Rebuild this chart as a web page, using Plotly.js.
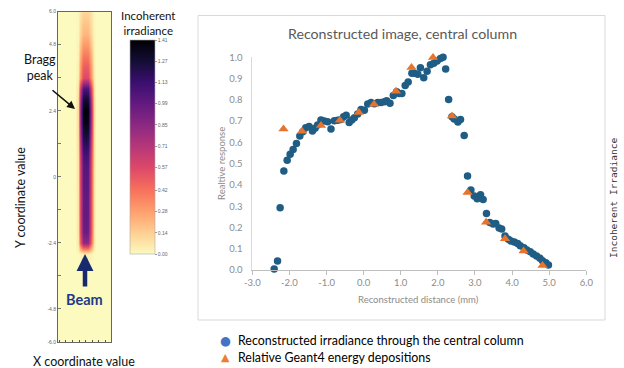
<!DOCTYPE html>
<html>
<head>
<meta charset="utf-8">
<script src="https://cdn.plot.ly/plotly-3.0.1.min.js"></script>
<style>html,body{margin:0;padding:0;background:#fff;}#chart{width:624px;height:368px;}</style>
</head>
<body>
<div id="chart"></div>
<script>
// ---- Right panel: reconstructed irradiance through the central column ----
const reconX = [-2.41,-2.32,-2.25,-2.15,-2.06,-1.98,-1.90,-1.81,-1.72,-1.64,-1.56,-1.47,-1.38,-1.31,-1.24,-1.15,-1.06,-0.97,-0.88,-0.79,-0.70,-0.61,-0.54,-0.47,-0.39,-0.32,-0.25,-0.16,-0.07,0.02,0.11,0.20,0.29,0.38,0.47,0.56,0.62,0.71,0.80,0.89,0.96,1.03,1.12,1.20,1.30,1.37,1.46,1.53,1.62,1.71,1.80,1.89,1.98,2.07,2.14,2.21,2.29,2.38,2.44,2.54,2.61,2.71,2.80,2.89,2.98,3.06,3.15,3.22,3.31,3.40,3.49,3.56,3.65,3.72,3.81,3.90,3.97,4.06,4.15,4.22,4.32,4.40,4.49,4.57,4.66,4.75,4.82,4.91,4.98];
const reconY = [0.005,0.042,0.293,0.465,0.516,0.544,0.566,0.595,0.630,0.650,0.669,0.675,0.653,0.666,0.682,0.705,0.700,0.697,0.663,0.702,0.704,0.708,0.721,0.727,0.694,0.705,0.716,0.733,0.755,0.751,0.780,0.787,0.782,0.788,0.788,0.791,0.796,0.784,0.820,0.838,0.830,0.830,0.867,0.884,0.925,0.925,0.920,0.951,0.904,0.934,0.965,0.972,0.983,0.994,1.000,0.945,0.802,0.720,0.710,0.696,0.708,0.632,0.442,0.376,0.348,0.335,0.354,0.331,0.266,0.223,0.216,0.219,0.197,0.193,0.160,0.144,0.136,0.132,0.125,0.114,0.105,0.094,0.086,0.075,0.066,0.055,0.044,0.034,0.024];
// Relative Geant4 energy depositions
const geantX = [-2.16,-1.66,-1.15,-0.64,-0.13,0.28,0.87,1.29,1.87,2.38,2.80,3.30,3.81,4.31,4.82];
const geantY = [0.663,0.652,0.679,0.704,0.740,0.779,0.840,0.952,0.999,0.724,0.364,0.224,0.147,0.089,0.021];
const distTicks = [-3,-2,-1,0,1,2,3,4,5,6];
const distTickText = ['-3.0','-2.0','-1.0','0.0','1.0','2.0','3.0','4.0','5.0','6.0'];
const respTicks = [0,0.1,0.2,0.3,0.4,0.5,0.6,0.7,0.8,0.9,1.0];
const respTickText = ['0.0','0.1','0.2','0.3','0.4','0.5','0.6','0.7','0.8','0.9','1.0'];

// ---- Left panel: incoherent irradiance map ----
// rows along Y coordinate (from -6.0 to 6.0 in steps of 0.4)
const mapY = [-6.0,-5.6,-5.2,-4.8,-4.4,-4.0,-3.6,-3.2,-2.8,-2.4,-2.0,-1.6,-1.2,-0.8,-0.4,0.0,0.4,0.8,1.2,1.6,2.0,2.4,2.8,3.2,3.6,4.0,4.4,4.8,5.2,5.6,6.0];
const columnProfile = [0,0,0,0,0,0,0,0,0.05,0.85,0.97,0.99,1.0,1.0,1.02,1.03,1.05,1.1,1.2,1.3,1.38,1.41,1.3,1.08,0.57,0.5,0.4,0.3,0.21,0.17,0.12];
// columns along X coordinate (from -1.0 to 1.0 in steps of 0.1)
const mapX = [-1.0,-0.9,-0.8,-0.7,-0.6,-0.5,-0.4,-0.3,-0.2,-0.1,0.0,0.1,0.2,0.3,0.4,0.5,0.6,0.7,0.8,0.9,1.0];
const lateralProfile = [0,0,0,0,0,0,0,0.08,0.55,0.97,1.0,0.97,0.55,0.08,0,0,0,0,0,0,0];
const cbTicks = [0,0.14,0.28,0.42,0.57,0.71,0.85,0.99,1.13,1.27,1.41];
const cbTickText = ['0.00','0.14','0.28','0.42','0.57','0.71','0.85','0.99','1.13','1.27','1.41'];
const mapYTicks = [-6,-4.8,-3.6,-2.4,-1.2,0,1.2,2.4,3.6,4.8,6];
const mapYTickText = ['-6.0','-4.8','','-2.4','','0','','2.4','','4.8','6.0'];
const magmaStops = [0,0.1,0.2,0.3,0.4,0.5,0.6,0.7,0.8,0.9,1];
const magmaColors = ['#fcfabf','#fecf92','#fe9f6d','#f7705c','#de4968','#b73779','#8c2981','#641a80','#3b0f70','#140e36','#000004'];

const zMap = columnProfile.map(r => lateralProfile.map(c => r * c));
const W = 624, H = 368;
const px = v => v / W;
const py = v => 1 - v / H;

const heat = {
  type: 'heatmap', x: mapX, y: mapY, z: zMap, zmin: 0, zmax: 1.41,
  zsmooth: 'best', xaxis: 'x', yaxis: 'y', hoverinfo: 'skip',
  colorscale: magmaStops.map((s, i) => [s, magmaColors[i]]),
  colorbar: {
    x: px(129.5), xanchor: 'left', xpad: 0, y: py(254), yanchor: 'bottom', ypad: 0,
    len: 214 / H, lenmode: 'fraction', thickness: 25, thicknessmode: 'pixels',
    tickmode: 'array', tickvals: cbTicks, ticktext: cbTickText,
    tickfont: {size: 5, color: '#666', family: 'Liberation Sans'},
    ticks: 'outside', ticklen: 2, tickcolor: '#999',
    outlinewidth: 0.6, outlinecolor: '#aaa'
  }
};
const recon = {
  type: 'scatter', mode: 'markers', x: reconX, y: reconY, xaxis: 'x2', yaxis: 'y2',
  name: 'Reconstructed irradiance through the central column', showlegend: false,
  cliponaxis: false,
  marker: {symbol: 'circle', size: 7.5, color: '#1f5d85'}
};
const geant = {
  type: 'scatter', mode: 'markers', x: geantX, y: geantY, xaxis: 'x2', yaxis: 'y2',
  name: 'Relative Geant4 energy depositions', showlegend: false,
  cliponaxis: false,
  marker: {symbol: 'triangle-up', size: 9, color: '#e8732c'}
};

const grayTxt = '#8c8c8c';
const annos = [
  {text: 'Reconstructed image, central column', x: px(402), y: py(34), font: {family: 'Lato', size: 14.2, color: '#595959'}},
  {text: 'Realtive response', x: px(221), y: py(164), textangle: -90, font: {family: 'Lato', size: 9.5, color: grayTxt}},
  {text: 'Reconstructed distance (mm)', x: px(419), y: py(299), font: {family: 'Lato', size: 9.5, color: grayTxt}},
  {text: '●', x: px(225), y: py(340), font: {family: 'DejaVu Sans', size: 12.5, color: '#4472c4'}},
  {text: '▲', x: px(225), y: py(357), font: {family: 'DejaVu Sans', size: 11, color: '#ed7d31'}},
  {text: 'Reconstructed irradiance through the central column', x: px(236), y: py(340), xanchor: 'left', font: {family: 'Lato', size: 12.4, color: '#000'}},
  {text: 'Relative Geant4 energy depositions', x: px(236), y: py(357.5), xanchor: 'left', font: {family: 'Lato', size: 12.4, color: '#000'}},
  {text: 'Incoherent Irradiance', x: px(614), y: py(198), textangle: -90, font: {family: 'DejaVu Sans Mono', size: 9.5, color: '#333'}},
  {text: 'Incoherent<br>irradiance', x: px(148), y: py(23), font: {family: 'Lato', size: 11.5, color: '#111'}},
  {text: 'Bragg<br>peak', x: px(39.5), y: py(67.5), font: {family: 'Lato', size: 12.5, color: '#111'}},
  {text: 'Y coordinate value', x: px(21), y: py(198), textangle: -90, font: {family: 'Lato', size: 12.5, color: '#111'}},
  {text: 'X coordinate value', x: px(84), y: py(361), font: {family: 'Lato', size: 12.5, color: '#111'}},
  {text: '<b>Beam</b>', x: px(85), y: py(299), font: {family: 'Lato', size: 14.5, color: '#1d3a8a'}},
  {text: '', x: px(75), y: py(109), ax: -24, ay: -20, showarrow: true, arrowhead: 2, arrowsize: 1, arrowwidth: 1.6, arrowcolor: '#111'},
  {text: '', x: px(85), y: py(254), ax: 0, ay: 34, showarrow: true, arrowhead: 2, arrowsize: 0.75, arrowwidth: 4.5, arrowcolor: '#182a6e'}
].map(a => Object.assign({xref: 'paper', yref: 'paper', showarrow: false, xanchor: 'center', yanchor: 'middle'}, a));

const layout = {
  width: W, height: H, autosize: false,
  margin: {l: 0, r: 0, t: 0, b: 0, pad: 0},
  paper_bgcolor: '#fff', plot_bgcolor: 'rgba(0,0,0,0)',
  showlegend: false,
  xaxis: {domain: [px(58), px(111)], range: [-1.045, 0.955], anchor: 'y',
    showticklabels: false, ticks: 'inside', ticklen: 2, tickcolor: '#555', dtick: 0.25, tick0: -1,
    showgrid: false, zeroline: false, showline: true, linecolor: '#666', linewidth: 1, mirror: true},
  yaxis: {domain: [1 - 342 / H, 1 - 11.7 / H], range: [-6, 6], anchor: 'x',
    tickmode: 'array', tickvals: mapYTicks, ticktext: mapYTickText,
    ticks: 'inside', ticklen: 3, tickcolor: '#777',
    tickfont: {size: 5, color: '#666', family: 'Liberation Sans'},
    showgrid: false, zeroline: false, showline: true, linecolor: '#666', linewidth: 1, mirror: true},
  xaxis2: {domain: [px(252.3), px(586.3)], range: [-3, 6], anchor: 'y2',
    tickmode: 'array', tickvals: distTicks, ticktext: distTickText,
    ticks: 'outside', ticklen: 4, tickcolor: '#bfbfbf',
    tickfont: {family: 'Lato', size: 9.5, color: grayTxt},
    showgrid: false, zeroline: false, showline: true, linecolor: '#bfbfbf', linewidth: 1},
  yaxis2: {domain: [1 - 270 / H, 1 - 57.3 / H], range: [0, 1], anchor: 'x2',
    tickmode: 'array', tickvals: respTicks, ticktext: respTickText,
    ticks: 'outside', ticklen: 7, tickcolor: 'rgba(0,0,0,0)',
    tickfont: {family: 'Lato', size: 9.5, color: grayTxt},
    showgrid: false, zeroline: false, showline: true, linecolor: '#d9d9d9', linewidth: 1},
  shapes: [
    {type: 'rect', xref: 'paper', yref: 'paper', x0: px(198), x1: px(605), y0: py(320), y1: py(15.5),
     line: {color: '#d9d9d9', width: 1}, fillcolor: 'rgba(0,0,0,0)', layer: 'below'}
  ],
  annotations: annos
};

Plotly.newPlot('chart', [heat, recon, geant], layout, {displayModeBar: false, staticPlot: true});
</script>
</body>
</html>
